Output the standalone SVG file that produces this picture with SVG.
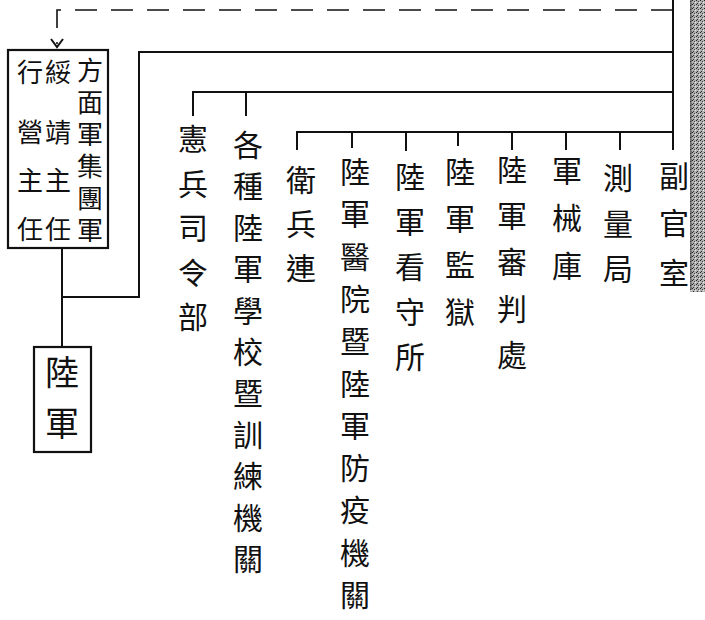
<svg xmlns="http://www.w3.org/2000/svg" width="705" height="620" viewBox="0 0 705 620">
<style>
.ln{stroke:#111;stroke-width:2;fill:none}
.dash{stroke:#111;stroke-width:1.6;fill:none;stroke-dasharray:22 14}
.box{stroke:#111;stroke-width:2.2;fill:#fff}
.t{font-family:"Noto Sans CJK TC","Noto Sans CJK SC",sans-serif;font-size:30px;fill:#111;text-anchor:middle;dominant-baseline:central}
.s{font-size:26px}
.b{font-size:34px}
.v{font-family:"Noto Sans CJK TC","Noto Sans CJK SC",sans-serif;font-size:26px;fill:#111;writing-mode:vertical-rl;letter-spacing:6px}
</style>
<defs>
<pattern id="grain" width="4" height="4" patternUnits="userSpaceOnUse">
<rect width="4" height="4" fill="#b0b0b0"/>
<rect x="0" y="0" width="1" height="1" fill="#222"/>
<rect x="2" y="1" width="1" height="1" fill="#444"/>
<rect x="1" y="3" width="1" height="1" fill="#333"/>
<rect x="3" y="2" width="1" height="1" fill="#eee"/>
</pattern>
</defs>
<rect width="705" height="620" fill="#fff"/>
<rect x="690" y="0" width="15" height="292" fill="url(#grain)"/>
<line x1="691" y1="0" x2="691" y2="290" stroke="#333" stroke-width="1"/>

<g id="connectors">
<path class="dash" d="M673 10 H57 V44"/>
<path class="ln" d="M51 39 L57 47 L63 39" stroke-width="1.6"/>
<path class="ln" d="M673 0 V150"/>
<path class="ln" d="M673 52 H139 V297 H62"/>
<path class="ln" d="M62 248 V347"/>
<path class="ln" d="M673 92 H193 V116 M246 92 V116"/>
<path class="ln" d="M673 132 H297 V150 M352 132 V148 M406 132 V151 M458 132 V146 M512 132 V150 M566 132 V150 M620 132 V150"/>
</g>

<g id="node-hq">
<rect class="box" x="8" y="50" width="100" height="198"/>
<text class="v" x="90" y="57">方面軍集團軍</text>
<text class="t s"><tspan x="58" y="70">綏</tspan><tspan x="58" y="130">靖</tspan><tspan x="58" y="178">主</tspan><tspan x="58" y="227">任</tspan></text>
<text class="t s"><tspan x="30" y="70">行</tspan><tspan x="30" y="130">營</tspan><tspan x="30" y="178">主</tspan><tspan x="30" y="227">任</tspan></text>
</g>

<g id="node-army">
<rect class="box" x="34" y="347" width="57" height="105"/>
<text class="t b"><tspan x="62" y="370">陸</tspan><tspan x="62" y="421">軍</tspan></text>
</g>

<g id="node-fuguan"><text class="t"><tspan x="674" y="174">副</tspan><tspan x="674" y="221">官</tspan><tspan x="674" y="271">室</tspan></text></g>
<g id="node-celiang"><text class="t"><tspan x="618" y="176">測</tspan><tspan x="618" y="222">量</tspan><tspan x="618" y="267">局</tspan></text></g>
<g id="node-junxie"><text class="t"><tspan x="567" y="169">軍</tspan><tspan x="567" y="216">械</tspan><tspan x="567" y="264">庫</tspan></text></g>
<g id="node-shenpan"><text class="t"><tspan x="512" y="168">陸</tspan><tspan x="512" y="214">軍</tspan><tspan x="512" y="260">審</tspan><tspan x="512" y="307">判</tspan><tspan x="512" y="353">處</tspan></text></g>
<g id="node-jianyu"><text class="t"><tspan x="460" y="170">陸</tspan><tspan x="460" y="217">軍</tspan><tspan x="460" y="263">監</tspan><tspan x="460" y="310">獄</tspan></text></g>
<g id="node-kanshou"><text class="t"><tspan x="410" y="175">陸</tspan><tspan x="410" y="220">軍</tspan><tspan x="410" y="265">看</tspan><tspan x="410" y="310">守</tspan><tspan x="410" y="355">所</tspan></text></g>
<g id="node-yiyuan"><text class="t"><tspan x="355" y="170">陸</tspan><tspan x="355" y="212">軍</tspan><tspan x="355" y="255">醫</tspan><tspan x="355" y="297">院</tspan><tspan x="355" y="339">暨</tspan><tspan x="355" y="382">陸</tspan><tspan x="355" y="424">軍</tspan><tspan x="355" y="466">防</tspan><tspan x="355" y="508">疫</tspan><tspan x="355" y="551">機</tspan><tspan x="355" y="593">關</tspan></text></g>
<g id="node-weibing"><text class="t"><tspan x="301" y="178">衛</tspan><tspan x="301" y="222">兵</tspan><tspan x="301" y="266">連</tspan></text></g>
<g id="node-xuexiao"><text class="t"><tspan x="248" y="143">各</tspan><tspan x="248" y="184">種</tspan><tspan x="248" y="226">陸</tspan><tspan x="248" y="267">軍</tspan><tspan x="248" y="309">學</tspan><tspan x="248" y="350">校</tspan><tspan x="248" y="391">暨</tspan><tspan x="248" y="433">訓</tspan><tspan x="248" y="474">練</tspan><tspan x="248" y="516">機</tspan><tspan x="248" y="557">關</tspan></text></g>
<g id="node-xianbing"><text class="t"><tspan x="193" y="137">憲</tspan><tspan x="193" y="182">兵</tspan><tspan x="193" y="226">司</tspan><tspan x="193" y="271">令</tspan><tspan x="193" y="315">部</tspan></text></g>
</svg>
